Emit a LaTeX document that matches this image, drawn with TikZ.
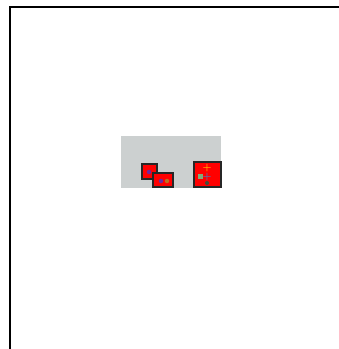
\documentclass[tikz,border=0pt]{standalone}
\begin{document}
\begin{tikzpicture}[x=1pt,y=-1pt,
  frame/.style={line width=2.4pt,black},
  redbox/.style={fill=red,draw=black!85,line width=1.6pt},
  dot/.style={circle,inner sep=0pt,minimum size=4.5pt}]
\useasboundingbox (0,0) rectangle (339,349);
\fill[white] (0,0) rectangle (339,349);
\coordinate (tl) at (10,7);
\coordinate (tr) at (339,7);
\coordinate (bl) at (10,349);
\draw[frame] (tr) -- (tl) -- (bl);
\fill[fill={rgb,255:red,204;green,208;blue,208}] (121,136) rectangle (221,188);
\draw[redbox] (142,164) rectangle (157,179);
\draw[redbox] (153,173) rectangle (173,187);
\draw[redbox] (194,162) rectangle (221,187);
\node[dot,fill={rgb,255:red,110;green,40;blue,160}] (d1) at (149,172) {};
\node[dot,fill={rgb,255:red,110;green,40;blue,160}] (d2) at (161,181) {};
\node[dot,fill={rgb,255:red,190;green,110;blue,30}] (d3) at (167,181) {};
\node[font=\bfseries,text={rgb,255:red,255;green,190;blue,0},inner sep=0pt] (p1) at (207,168) {+};
\node[font=\bfseries,text={rgb,255:red,60;green,130;blue,200},inner sep=0pt] (p2) at (207,177) {+};
\node[inner sep=0pt,minimum size=5pt,fill={rgb,255:red,130;green,170;blue,120}] (s1) at (200,176) {};
\node[inner sep=0pt,minimum size=4pt,circle,fill={rgb,255:red,60;green,80;blue,60}] (s2) at (207,183) {};
\end{tikzpicture}
\end{document}
